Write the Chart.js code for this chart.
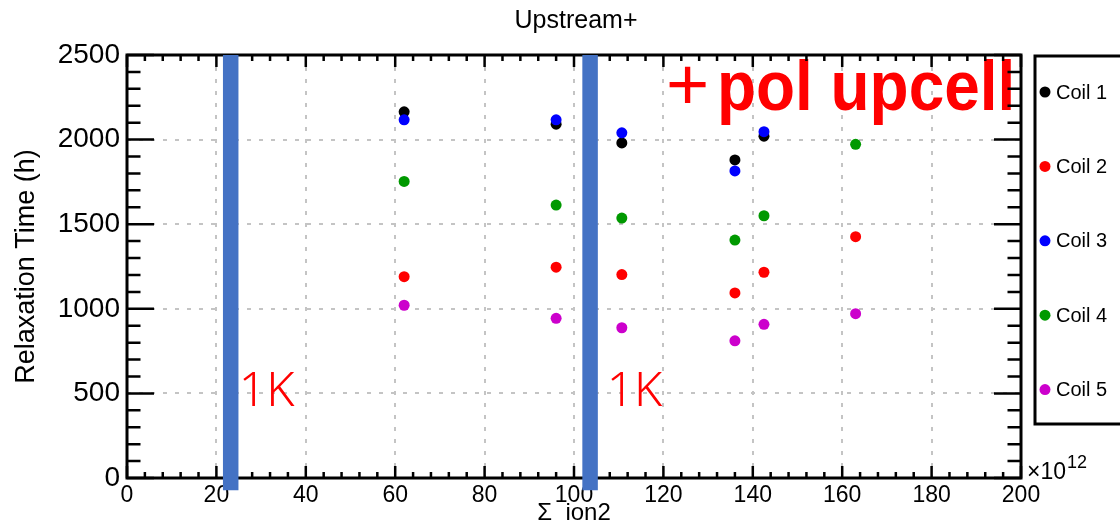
<!DOCTYPE html>
<html>
<head>
<meta charset="utf-8">
<title>Upstream+</title>
<script src="https://cdn.jsdelivr.net/npm/chart.js@4/dist/chart.umd.min.js"></script>
<style>
  html, body { margin: 0; padding: 0; background: #fff; }
</style>
</head>
<body>
<canvas id="relaxChart" width="1120" height="526"></canvas>
<script>
// x values (sum of ion2, in units of 1e12) shared by all coils
const coilX = [62, 96, 110.7, 136, 142.5, 163];
// relaxation time (h) per coil, null = no point
const coil1 = [2164, 2091, 1980, 1880, 2020, null];
const coil2 = [1190, 1246, 1202, 1094, 1216, 1426];
const coil3 = [2117, 2117, 2040, 1815, 2047, null];
const coil4 = [1753, 1613, 1536, 1406, 1550, 1972];
const coil5 = [1021, 944, 888, 811, 908, 971];
const coilNames = ['Coil 1', 'Coil 2', 'Coil 3', 'Coil 4', 'Coil 5'];
const coilColors = ['#000000', '#ff0000', '#0000ff', '#009900', '#cc00cc'];

// blue markers for the 1K periods
const bandX = [23.2, 103.6];
const bandRange = [2500, -72];

const xTickValues = [0, 20, 40, 60, 80, 100, 120, 140, 160, 180, 200];
const yTickValues = [0, 500, 1000, 1500, 2000, 2500];

const FONT = '"Liberation Sans", Arial, Helvetica, sans-serif';

function toPoints(values) {
    return coilX
        .map((x, i) => (values[i] == null ? null : { x: x, y: values[i] }))
        .filter(Boolean);
}

const coilSeries = [coil1, coil2, coil3, coil4, coil5];

const coilDatasets = coilSeries.map((vals, i) => ({
    type: 'scatter',
    label: coilNames[i],
    data: toPoints(vals),
    backgroundColor: coilColors[i],
    borderColor: coilColors[i],
    borderWidth: 0,
    pointRadius: 5.5,
    pointHoverRadius: 5.5,
    order: coilSeries.length - i  // ROOT draws later graphs on top
}));

const bandDatasets = bandX.map(bx => ({
    type: 'line',
    label: '1K',
    data: [{ x: bx, y: bandRange[0] }, { x: bx, y: bandRange[1] }],
    borderColor: '#4472c4',
    borderWidth: 15.5,
    borderCapStyle: 'butt',
    pointRadius: 0,
    clip: false,
    order: 0
}));

// ROOT style frame, inner ticks, legend and text boxes
const rootDecor = {
    id: 'rootDecor',
    beforeDatasetsDraw(chart) {
        const ctx = chart.ctx;
        const a = chart.chartArea;
        const xs = chart.scales.x;
        const ys = chart.scales.y;
        ctx.save();

        // big label
        ctx.fillStyle = '#ff0000';
        ctx.textBaseline = 'alphabetic';
        ctx.textAlign = 'left';
        ctx.font = '74px ' + FONT;
        ctx.fillText('+', 666, 110);
        ctx.save();
        ctx.translate(717, 110);
        ctx.scale(0.9, 1);
        ctx.font = 'bold 71px ' + FONT;
        ctx.fillText('pol upcell', 0, 0);
        ctx.restore();

        // 1K labels
        ctx.font = '300 48px "Noto Sans", "DejaVu Sans", sans-serif';
        ctx.fillText('1K', xs.getPixelForValue(25.0), ys.getPixelForValue(425));
        ctx.fillText('1K', xs.getPixelForValue(107.3), ys.getPixelForValue(425));

        // frame
        ctx.strokeStyle = '#000';
        ctx.lineWidth = 3;
        ctx.strokeRect(a.left, a.top, a.right - a.left, a.bottom - a.top);

        // ticks
        ctx.lineWidth = 2.5;
        ctx.beginPath();
        for (let v = 0; v <= 200; v += 4) {
            const px = xs.getPixelForValue(v);
            const len = v % 20 === 0 ? 12 : 6;
            ctx.moveTo(px, a.bottom); ctx.lineTo(px, a.bottom - len);
            ctx.moveTo(px, a.top); ctx.lineTo(px, a.top + len);
        }
        for (let v = 0; v <= 2500; v += 100) {
            const py = ys.getPixelForValue(v);
            const len = v % 500 === 0 ? 27 : 13.5;
            ctx.moveTo(a.left, py); ctx.lineTo(a.left + len, py);
            ctx.moveTo(a.right, py); ctx.lineTo(a.right - len, py);
        }
        ctx.stroke();
        ctx.restore();
    },
    afterDraw(chart) {
        const ctx = chart.ctx;
        const a = chart.chartArea;
        ctx.save();
        ctx.fillStyle = '#000';

        // title
        ctx.font = '25px ' + FONT;
        ctx.textAlign = 'center';
        ctx.textBaseline = 'alphabetic';
        ctx.fillText('Upstream+', (a.left + a.right) / 2 + 2, 28);

        // exponent
        ctx.textAlign = 'left';
        ctx.font = '23px ' + FONT;
        const base = '\u00d710';
        ctx.fillText(base, a.right + 6, 479);
        const w = ctx.measureText(base).width;
        ctx.font = '18px ' + FONT;
        ctx.fillText('12', a.right + 7 + w, 468);

        // legend box
        ctx.strokeStyle = '#000';
        ctx.lineWidth = 3;
        ctx.strokeRect(1035, 56, 100, 368);
        ctx.font = '20px ' + FONT;
        ctx.textBaseline = 'middle';
        coilDatasets.forEach((ds, i) => {
            const y = 92 + i * 74.4;
            ctx.fillStyle = ds.backgroundColor;
            ctx.beginPath();
            ctx.arc(1045, y, 5.5, 0, Math.PI * 2);
            ctx.fill();
            ctx.fillStyle = '#000';
            ctx.fillText(ds.label, 1056, y + 1);
        });
        ctx.restore();
    }
};

const relaxChart = new Chart(document.getElementById('relaxChart').getContext('2d'), {
    type: 'scatter',
    data: { datasets: coilDatasets.concat(bandDatasets) },
    options: {
        responsive: false,
        animation: false,
        events: [],
        layout: { padding: { top: 55, right: 99, left: 0, bottom: 0 } },
        plugins: {
            legend: { display: false },
            tooltip: { enabled: false },
            title: { display: false }
        },
        scales: {
            x: {
                type: 'linear',
                min: 0,
                max: 200,
                afterBuildTicks: s => { s.ticks = xTickValues.map(v => ({ value: v })); },
                afterFit: s => { s.height = 48; },
                ticks: {
                    color: '#000',
                    font: { family: FONT, size: 23 },
                    padding: 4,
                    maxRotation: 0,
                    callback: v => String(v)
                },
                grid: { color: '#c4c4c4', lineWidth: 2, drawTicks: false },
                border: { display: false, dash: [4, 8] },
                title: {
                    display: true,
                    text: '\u03a3  ion2',
                    color: '#000',
                    font: { family: FONT, size: 24 },
                    padding: { top: 0, bottom: -2 }
                }
            },
            y: {
                type: 'linear',
                min: 0,
                max: 2500,
                afterBuildTicks: s => { s.ticks = yTickValues.map(v => ({ value: v })); },
                afterFit: s => { s.width = 127; },
                ticks: {
                    color: '#000',
                    font: { family: FONT, size: 28 },
                    padding: 7,
                    callback: v => String(v)
                },
                grid: { color: '#c4c4c4', lineWidth: 2, drawTicks: false },
                border: { display: false, dash: [4, 8] },
                title: {
                    display: true,
                    text: 'Relaxation Time (h)',
                    color: '#000',
                    font: { family: FONT, size: 27 },
                    padding: { top: 10, bottom: 0 }
                }
            }
        }
    },
    plugins: [rootDecor]
});
</script>
</body>
</html>
